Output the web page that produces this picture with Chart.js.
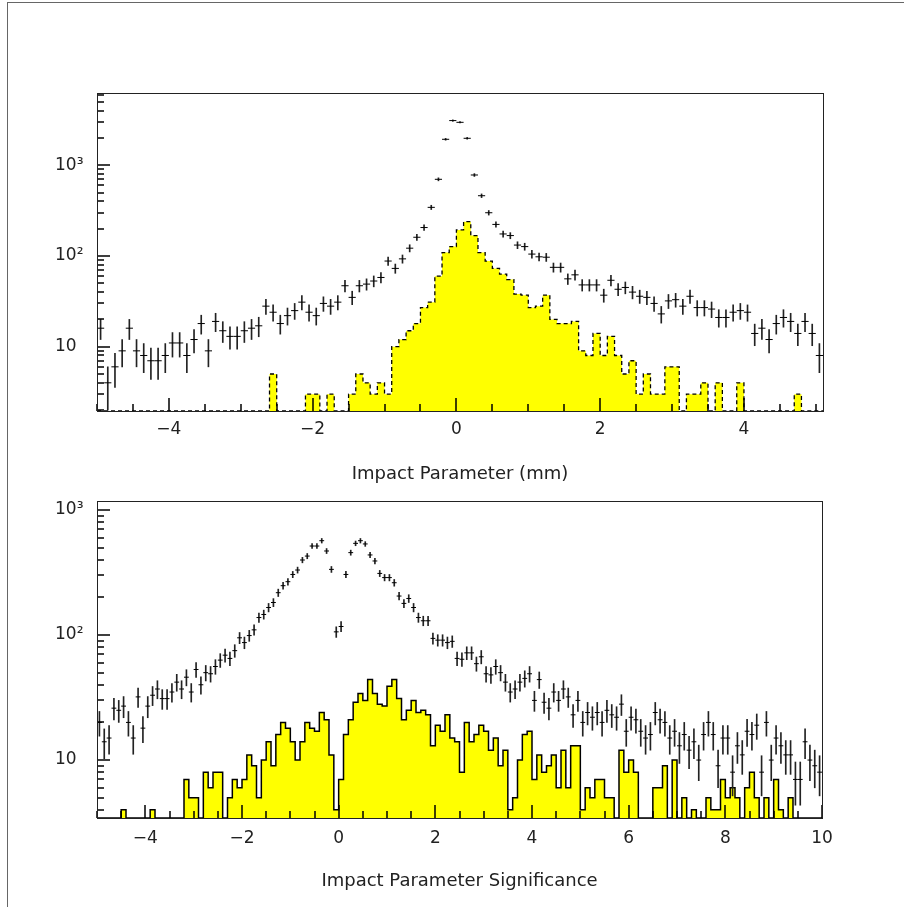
<!DOCTYPE html>
<html><head><meta charset="utf-8">
<script src="https://cdn.jsdelivr.net/npm/chart.js@4.4.0/dist/chart.umd.min.js"></script>
<style>
html,body{margin:0;padding:0;background:#fff;}
body{width:904px;height:907px;position:relative;overflow:hidden;}
#frame{position:absolute;left:7px;top:2px;width:1000px;height:1000px;border:1px solid #666;box-sizing:border-box;}
.w{position:absolute;left:0;}
#w1{top:0;}
#w2{top:480px;}
</style></head><body>
<div id="frame"></div>
<div class="w" id="w1"><canvas id="c1" width="904" height="490"></canvas></div>
<div class="w" id="w2"><canvas id="c2" width="904" height="427"></canvas></div>
<script>
// ---------- Top panel: Impact Parameter (mm), 101 bins of 0.1 from -5.0 to 5.1 ----------
const ipLow = -5.0, ipHigh = 5.1, ipBinWidth = 0.1;
const ipData = [16,4,6,9,16,9,8,7,7,8, 11,11,8,12,18,9,19,15,13,13, 15,16,17,28,24,18,22,25,31,24,
  22,30,28,31,47,35,47,49,53,58, 88,73,93,122,161,206,344,701,1936,3112, 2979,1986,782,462,300,223,175,168,132,127,
  105,98,97,75,75,56,62,48,48,48, 37,54,43,45,40,36,35,30,23,32, 33,28,36,27,27,26,21,21,24,25,
  24,14,16,12,18,21,19,14,19,14,8];
const ipSignal = [0,0,0,0,0,0,0,0,0,0, 0,0,0,0,0,0,0,0,0,0, 0,0,0,0,5,0,0,0,0,3,
  3,0,3,0,0,3,5,4,3,4, 3,10,12,15,18,27,31,60,109,127, 194,239,168,109,88,73,63,55,38,37,
  27,28,37,20,18,18,19,9,8,14, 8,13,8,5,7,3,5,3,3,6, 6,0,3,3,4,0,4,0,0,4,
  0,0,0,0,0,0,0,3,0,0,0];
const ipXTicks = [-4, -2, 0, 2, 4];
const ipYTicks = [10, 100, 1000];
const ipYLabels = ['10', '10\u00B2', '10\u00B3'];
const ipYMin = 1.955, ipYMax = 6270;
const ipTitle = 'Impact Parameter (mm)';

// ---------- Bottom panel: Impact Parameter Significance, 150 bins of 0.1 from -5 to 10 ----------
const sigLow = -5.0, sigHigh = 10.0, sigBinWidth = 0.1;
const sigData = [20,14,15,26,25,27,20,15,32,18, 27,33,37,31,31,35,42,37,46,35, 53,40,50,49,56,63,69,65,75,95,
  87,99,110,138,146,166,182,218,248,267, 305,331,398,428,515,515,568,470,335,106, 117,305,456,541,568,535,437,391,311,288,
  288,262,205,179,196,166,138,130,130,94, 91,91,87,89,65,64,72,72,59,67, 49,48,56,50,42,35,37,42,45,49,
  30,44,29,26,35,30,37,32,23,30, 20,24,22,24,20,25,23,22,28,17, 22,21,17,15,16,24,21,20,15,17,
  13,16,12,14,10,16,20,16,9,15, 15,8,13,11,17,16,19,8,20,10, 15,13,11,11,7,7,14,10,9,8];
const sigSignal = [0,0,0,0,0,4,0,0,0,0, 0,4,0,0,0,0,0,0,7,5, 5,0,8,6,8,8,0,5,7,6,
  7,11,9,5,10,14,9,16,20,18, 14,10,14,20,18,17,24,21,11,4, 7,16,21,29,34,30,44,34,28,27,
  39,44,31,21,25,30,24,25,23,13, 19,17,23,15,14,8,20,14,16,19, 17,12,15,9,12,4,5,10,16,17,
  7,11,8,9,11,6,12,6,13,13, 4,6,5,7,7,5,5,0,12,8, 10,8,0,0,0,6,6,9,0,10,
  0,5,0,4,0,0,5,4,4,7, 5,6,5,0,6,8,5,0,5,0, 7,4,0,5,0,0,0,0,0,0];
const sigXTicks = [-4, -2, 0, 2, 4, 6, 8, 10];
const sigYTicks = [10, 100, 1000];
const sigYLabels = ['10', '10\u00B2', '10\u00B3'];
const sigYMin = 3.44, sigYMax = 1180;
const sigTitle = 'Impact Parameter Significance';

const FONT = "'DejaVu Sans', 'Liberation Sans', sans-serif";
const TEXT = '#222';

function makeFramePlugin(p) {
  return {
    id: 'frameTicks_' + p.id,
    afterDraw(chart) {
      const ctx = chart.ctx, a = chart.chartArea, x = chart.scales.x, y = chart.scales.y;
      ctx.save();
      ctx.strokeStyle = '#000';
      ctx.lineWidth = 1.5;
      ctx.setLineDash([]);
      ctx.beginPath();
      const kStart = Math.ceil(p.low / 0.5 - 1e-9);
      const kEnd = Math.floor(p.high / 0.5 + 1e-9);
      for (let k = kStart; k <= kEnd; k++) {
        const v = k * 0.5;
        const px = Math.round(x.getPixelForValue(v));
        const major = p.xTicks.some(t => Math.abs(t - v) < 1e-9);
        const L = major ? 13 : 7;
        ctx.moveTo(px, a.bottom);
        ctx.lineTo(px, a.bottom - L);
      }
      for (let d = 1; d <= 10000; d *= 10) {
        for (let m = 1; m <= 9; m++) {
          const v = m * d;
          if (v < p.yMin || v > p.yMax) continue;
          const py = Math.round(y.getPixelForValue(v));
          const L = (m === 1) ? 13 : 7;
          ctx.moveTo(a.left, py);
          ctx.lineTo(a.left + L, py);
        }
      }
      ctx.stroke();
      ctx.lineWidth = 1;
      ctx.strokeStyle = '#222';
      ctx.strokeRect(Math.round(a.left) + 0.5, Math.round(a.top) + 0.5,
        Math.round(a.right) - Math.round(a.left), Math.round(a.bottom) - Math.round(a.top));
      ctx.restore();
    }
  };
}

function buildChart(id, p) {
  const n = p.signal.length;
  const hist = [];
  for (let i = 0; i < n; i++) hist.push({x: p.low + i * p.bw, y: Math.max(p.signal[i], p.yMin)});
  hist.push({x: p.low + n * p.bw, y: Math.max(p.signal[n - 1], p.yMin)});
  const mids = p.data.map((v, i) => ({x: p.low + (i + 0.5) * p.bw, y: v}));
  const errs = p.data.map((v, i) => ({x: p.low + (i + 0.5) * p.bw,
    y: [Math.max(v - Math.sqrt(v), p.yMin * 0.5), v + Math.sqrt(v)]}));
  const halfBin = (ctx) => {
    const xs = ctx.chart.scales.x;
    return Math.abs(xs.getPixelForValue(p.bw) - xs.getPixelForValue(0)) / 2;
  };
  p.id = id;
  return new Chart(document.getElementById(id), {
    type: 'bar',
    data: {
      datasets: [
        {type: 'line', data: hist, order: 3, stepped: true, fill: 'start',
          backgroundColor: '#ffff00', borderColor: '#000', borderWidth: p.lineW,
          borderDash: p.dash, pointRadius: 0, tension: 0},
        {type: 'bar', data: errs, order: 2, barThickness: 1, grouped: false,
          backgroundColor: '#222', borderWidth: 0},
        {type: 'scatter', data: mids, order: 1, pointStyle: 'line', pointRadius: halfBin,
          pointHoverRadius: halfBin, pointBorderColor: '#000', pointBorderWidth: 1, pointBackgroundColor: '#000'}
      ]
    },
    options: {
      responsive: false, animation: false, devicePixelRatio: 1,
      layout: {padding: p.pad},
      plugins: {legend: {display: false}, tooltip: {enabled: false}},
      scales: {
        x: {type: 'linear', position: 'bottom', min: p.low, max: p.high, offset: false,
          grid: {display: false, offset: false}, border: {display: false},
          afterBuildTicks: (s) => { s.ticks = p.xTicks.map(v => ({value: v})); },
          afterFit: (s) => { s.height = p.xAxisH; },
          ticks: {autoSkip: false, maxRotation: 0, padding: p.xLabPad, color: TEXT,
            font: {family: FONT, size: 17},
            callback: (v) => v < 0 ? '\u2212' + (-v) : String(v)},
          title: {display: true, text: p.title, color: TEXT, font: {family: FONT, size: 18},
            padding: {top: 0, bottom: p.titlePad}}
        },
        y: {type: 'logarithmic', position: 'left', min: p.yMin, max: p.yMax,
          grid: {display: false}, border: {display: false},
          afterBuildTicks: (s) => { s.ticks = p.yTicks.map(v => ({value: v})); },
          afterFit: (s) => { s.width = 42; },
          ticks: {autoSkip: false, crossAlign: 'far', padding: 10, color: TEXT,
            font: {family: FONT, size: 17},
            callback: (v) => { const k = p.yTicks.indexOf(v); return k >= 0 ? p.yLabels[k] : ''; }}
        }
      }
    },
    plugins: [makeFramePlugin(p)]
  });
}

buildChart('c1', {
  low: ipLow, high: ipHigh, bw: ipBinWidth, data: ipData, signal: ipSignal,
  xTicks: ipXTicks, yTicks: ipYTicks, yLabels: ipYLabels, yMin: ipYMin, yMax: ipYMax,
  title: ipTitle, lineW: 1.3, dash: [4, 3],
  pad: {left: 55, right: 81, top: 93, bottom: 0}, xAxisH: 79, xLabPad: 0, titlePad: 5
});
buildChart('c2', {
  low: sigLow, high: sigHigh, bw: sigBinWidth, data: sigData, signal: sigSignal,
  xTicks: sigXTicks, yTicks: sigYTicks, yLabels: sigYLabels, yMin: sigYMin, yMax: sigYMax,
  title: sigTitle, lineW: 1.5, dash: [],
  pad: {left: 55, right: 82, top: 21, bottom: 0}, xAxisH: 89, xLabPad: 2, titlePad: 15
});
</script>
</body></html>
